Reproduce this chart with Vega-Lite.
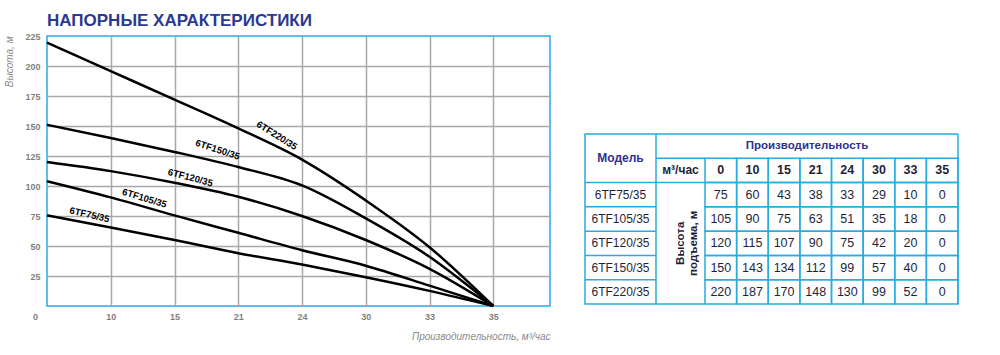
{
  "$schema": "https://vega.github.io/schema/vega-lite/v6.json",
  "background": "white",
  "padding": {"left": 4, "top": 11, "right": 0, "bottom": 0},
  "config": {
    "font": "Liberation Sans, Arial, sans-serif",
    "view": {"stroke": "#29abe2", "strokeWidth": 1.5},
    "concat": {"spacing": 0}
  },
  "datasets": {
    "curves": [
      {"model": "6TF75/35", "q": 0, "h": 75.5}, {"model": "6TF75/35", "q": 10, "h": 65.5}, {"model": "6TF75/35", "q": 15, "h": 55}, {"model": "6TF75/35", "q": 21, "h": 44}, {"model": "6TF75/35", "q": 24, "h": 34.5}, {"model": "6TF75/35", "q": 30, "h": 24}, {"model": "6TF75/35", "q": 33, "h": 12.6}, {"model": "6TF75/35", "q": 35, "h": 0},
      {"model": "6TF105/35", "q": 0, "h": 104}, {"model": "6TF105/35", "q": 10, "h": 90.5}, {"model": "6TF105/35", "q": 15, "h": 75.5}, {"model": "6TF105/35", "q": 21, "h": 61}, {"model": "6TF105/35", "q": 24, "h": 46.5}, {"model": "6TF105/35", "q": 30, "h": 33.6}, {"model": "6TF105/35", "q": 33, "h": 17}, {"model": "6TF105/35", "q": 35, "h": 0},
      {"model": "6TF120/35", "q": 0, "h": 120}, {"model": "6TF120/35", "q": 10, "h": 112.4}, {"model": "6TF120/35", "q": 15, "h": 102.7}, {"model": "6TF120/35", "q": 21, "h": 91}, {"model": "6TF120/35", "q": 24, "h": 75}, {"model": "6TF120/35", "q": 30, "h": 55}, {"model": "6TF120/35", "q": 33, "h": 31}, {"model": "6TF120/35", "q": 35, "h": 0},
      {"model": "6TF150/35", "q": 0, "h": 151}, {"model": "6TF150/35", "q": 10, "h": 140}, {"model": "6TF150/35", "q": 15, "h": 128.4}, {"model": "6TF150/35", "q": 21, "h": 115.8}, {"model": "6TF150/35", "q": 24, "h": 100.5}, {"model": "6TF150/35", "q": 30, "h": 73}, {"model": "6TF150/35", "q": 33, "h": 41}, {"model": "6TF150/35", "q": 35, "h": 0},
      {"model": "6TF220/35", "q": 0, "h": 219.4}, {"model": "6TF220/35", "q": 10, "h": 195.7}, {"model": "6TF220/35", "q": 15, "h": 172}, {"model": "6TF220/35", "q": 21, "h": 148}, {"model": "6TF220/35", "q": 24, "h": 122}, {"model": "6TF220/35", "q": 30, "h": 88}, {"model": "6TF220/35", "q": 33, "h": 49}, {"model": "6TF220/35", "q": 35, "h": 0}
    ],
    "table": [
      {"model": "6TF75/35", "q": 0, "h": 75}, {"model": "6TF75/35", "q": 10, "h": 60}, {"model": "6TF75/35", "q": 15, "h": 43}, {"model": "6TF75/35", "q": 21, "h": 38}, {"model": "6TF75/35", "q": 24, "h": 33}, {"model": "6TF75/35", "q": 30, "h": 29}, {"model": "6TF75/35", "q": 33, "h": 10}, {"model": "6TF75/35", "q": 35, "h": 0},
      {"model": "6TF105/35", "q": 0, "h": 105}, {"model": "6TF105/35", "q": 10, "h": 90}, {"model": "6TF105/35", "q": 15, "h": 75}, {"model": "6TF105/35", "q": 21, "h": 63}, {"model": "6TF105/35", "q": 24, "h": 51}, {"model": "6TF105/35", "q": 30, "h": 35}, {"model": "6TF105/35", "q": 33, "h": 18}, {"model": "6TF105/35", "q": 35, "h": 0},
      {"model": "6TF120/35", "q": 0, "h": 120}, {"model": "6TF120/35", "q": 10, "h": 115}, {"model": "6TF120/35", "q": 15, "h": 107}, {"model": "6TF120/35", "q": 21, "h": 90}, {"model": "6TF120/35", "q": 24, "h": 75}, {"model": "6TF120/35", "q": 30, "h": 42}, {"model": "6TF120/35", "q": 33, "h": 20}, {"model": "6TF120/35", "q": 35, "h": 0},
      {"model": "6TF150/35", "q": 0, "h": 150}, {"model": "6TF150/35", "q": 10, "h": 143}, {"model": "6TF150/35", "q": 15, "h": 134}, {"model": "6TF150/35", "q": 21, "h": 112}, {"model": "6TF150/35", "q": 24, "h": 99}, {"model": "6TF150/35", "q": 30, "h": 57}, {"model": "6TF150/35", "q": 33, "h": 40}, {"model": "6TF150/35", "q": 35, "h": 0},
      {"model": "6TF220/35", "q": 0, "h": 220}, {"model": "6TF220/35", "q": 10, "h": 187}, {"model": "6TF220/35", "q": 15, "h": 170}, {"model": "6TF220/35", "q": 21, "h": 148}, {"model": "6TF220/35", "q": 24, "h": 130}, {"model": "6TF220/35", "q": 30, "h": 99}, {"model": "6TF220/35", "q": 33, "h": 52}, {"model": "6TF220/35", "q": 35, "h": 0}
    ],
    "flows": [{"q": 0}, {"q": 10}, {"q": 15}, {"q": 21}, {"q": 24}, {"q": 30}, {"q": 33}, {"q": 35}],
    "models": [{"model": "6TF75/35"}, {"model": "6TF105/35"}, {"model": "6TF120/35"}, {"model": "6TF150/35"}, {"model": "6TF220/35"}]
  },
  "spacing": 32,
  "hconcat": [
    {
      "width": 503,
      "height": 270,
      "title": {"text": "НАПОРНЫЕ ХАРАКТЕРИСТИКИ", "anchor": "start", "frame": "group", "fontSize": 17, "fontWeight": "bold", "color": "#2b3990", "offset": 2},
      "data": {"name": "curves"},
      "encoding": {
        "x": {"field": "q", "type": "ordinal",
          "scale": {"type": "point", "domain": [0, 10, 15, 21, 24, 30, 33, 35], "padding": 0.445, "align": 0},
          "axis": {"grid": true, "gridColor": "#a8a8a8", "gridWidth": 1.5,
            "gridOpacity": {"condition": {"test": "datum.value == 0", "value": 0}, "value": 1},
            "ticks": false, "domain": false, "labelAngle": 0, "labelColor": "#7f7f7f", "labelFontWeight": "bold", "labelFontSize": 9, "labelPadding": 6,
            "labelOffset": {"condition": {"test": "datum.value == 0", "value": -12}, "value": 0},
            "title": "Производительность, м³/час", "titleAnchor": "end", "titleFontStyle": "italic", "titleFontWeight": "normal", "titleColor": "#8a8a8a", "titleFontSize": 10, "titlePadding": 10}},
        "y": {"field": "h", "type": "quantitative",
          "scale": {"domain": [0, 225], "nice": false},
          "axis": {"values": [25, 50, 75, 100, 125, 150, 175, 200, 225], "grid": true, "gridColor": "#a8a8a8", "gridWidth": 1.5,
            "gridOpacity": {"condition": {"test": "datum.value == 225", "value": 0}, "value": 1},
            "ticks": false, "domain": false, "labelColor": "#7f7f7f", "labelFontWeight": "bold", "labelFontSize": 9, "labelPadding": 7,
            "title": "Высота, м", "titleAnchor": "end", "titleFontStyle": "italic", "titleFontWeight": "normal", "titleColor": "#8a8a8a", "titleFontSize": 10, "titlePadding": 10}}
      },
      "layer": [
        {"mark": {"type": "line", "color": "black", "strokeWidth": 2.5, "interpolate": "monotone"},
         "encoding": {"detail": {"field": "model"}}},
        {"transform": [{"filter": "datum.model == '6TF220/35' && datum.q == 24"}],
         "mark": {"type": "text", "angle": 32, "align": "right", "baseline": "alphabetic", "dx": -11, "dy": -4, "fontSize": 9.5, "fontWeight": "bold", "color": "black"},
         "encoding": {"text": {"field": "model"}}},
        {"transform": [{"filter": "datum.model == '6TF150/35' && datum.q == 21"}],
         "mark": {"type": "text", "angle": 18, "align": "right", "baseline": "alphabetic", "dx": -2, "dy": -7, "fontSize": 9.5, "fontWeight": "bold", "color": "black"},
         "encoding": {"text": {"field": "model"}}},
        {"transform": [{"filter": "datum.model == '6TF120/35' && datum.q == 15"}],
         "mark": {"type": "text", "angle": 15, "align": "left", "baseline": "alphabetic", "dx": -9, "dy": -6, "fontSize": 9.5, "fontWeight": "bold", "color": "black"},
         "encoding": {"text": {"field": "model"}}},
        {"transform": [{"filter": "datum.model == '6TF105/35' && datum.q == 10"}],
         "mark": {"type": "text", "angle": 17, "align": "left", "baseline": "alphabetic", "dx": 9.5, "dy": -6, "fontSize": 9.5, "fontWeight": "bold", "color": "black"},
         "encoding": {"text": {"field": "model"}}},
        {"transform": [{"filter": "datum.model == '6TF75/35' && datum.q == 0"}],
         "mark": {"type": "text", "angle": 13, "align": "left", "baseline": "alphabetic", "dx": 21, "dy": -7, "fontSize": 9.5, "fontWeight": "bold", "color": "black"},
         "encoding": {"text": {"field": "model"}}}
      ]
    },
    {
      "spacing": 0,
      "vconcat": [
        {"width": 10, "height": 97, "view": {"stroke": null}, "data": {"values": [{"a": 1}]}, "mark": {"type": "point", "opacity": 0}, "encoding": {}},
        {
          "spacing": 0,
          "bounds": "flush",
          "hconcat": [
            {"width": 71, "height": 170,
             "encoding": {"y": {"field": "model", "type": "nominal", "scale": {"type": "band", "paddingInner": 0, "paddingOuter": 0, "domain": ["h1", "h2", "6TF75/35", "6TF105/35", "6TF120/35", "6TF150/35", "6TF220/35"]}, "axis": null}},
             "layer": [
               {"data": {"name": "models"}, "mark": {"type": "rule", "color": "#29abe2", "strokeWidth": 1.5}, "encoding": {"y": {"field": "model", "type": "nominal", "bandPosition": 0}}},
               {"data": {"name": "models"}, "mark": {"type": "text", "fontSize": 12, "color": "#1f1f3a"}, "encoding": {"text": {"field": "model"}}},
               {"data": {"values": [{"t": "Модель"}]}, "mark": {"type": "text", "fontSize": 12, "fontWeight": "bold", "color": "#2e3192"},
                "encoding": {"y": {"datum": "h2", "type": "nominal", "bandPosition": 0}, "text": {"field": "t"}}}
             ]},
            {"width": 49, "height": 170, "view": {"stroke": null},
             "layer": [
               {"data": {"values": [{"r": "h1"}, {"r": "h2"}, {"r": "6TF75/35"}]}, "mark": {"type": "rule", "color": "#29abe2", "strokeWidth": 1.5},
                "encoding": {"y": {"field": "r", "type": "nominal", "bandPosition": 0, "scale": {"type": "band", "paddingInner": 0, "paddingOuter": 0, "domain": ["h1", "h2", "6TF75/35", "6TF105/35", "6TF120/35", "6TF150/35", "6TF220/35"]}, "axis": null}}},
               {"data": {"values": [{"r": "6TF220/35"}]}, "mark": {"type": "rule", "color": "#29abe2", "strokeWidth": 1.5},
                "encoding": {"y": {"field": "r", "type": "nominal", "bandPosition": 1}}},
               {"data": {"values": [{"t": "м³/час"}]}, "mark": {"type": "text", "fontSize": 12, "fontWeight": "bold", "color": "#1f1f3a"},
                "encoding": {"y": {"datum": "h2", "type": "nominal"}, "text": {"field": "t"}}},
               {"data": {"values": [{"t": ["Высота", "подъема, м"]}]}, "mark": {"type": "text", "angle": 270, "fontSize": 11.5, "fontWeight": "bold", "color": "#1f1f3a", "lineHeight": 13},
                "encoding": {"y": {"datum": "6TF120/35", "type": "nominal"}, "text": {"field": "t"}}}
             ]},
            {"width": 253, "height": 170, "view": {"stroke": null},
             "encoding": {
               "x": {"field": "q", "type": "ordinal", "scale": {"type": "band", "paddingInner": 0, "paddingOuter": 0, "domain": [0, 10, 15, 21, 24, 30, 33, 35]}, "axis": null},
               "y": {"field": "model", "type": "nominal", "scale": {"type": "band", "paddingInner": 0, "paddingOuter": 0, "domain": ["h1", "h2", "6TF75/35", "6TF105/35", "6TF120/35", "6TF150/35", "6TF220/35"]}, "axis": null}
             },
             "layer": [
               {"data": {"name": "table"}, "mark": {"type": "rect", "fill": "transparent", "stroke": "#29abe2", "strokeWidth": 1.5}},
               {"data": {"name": "flows"}, "mark": {"type": "rect", "fill": "transparent", "stroke": "#29abe2", "strokeWidth": 1.5},
                "encoding": {"y": {"datum": "h2", "type": "nominal"}}},
               {"data": {"values": [{"t": "Производительность"}]}, "mark": {"type": "rule", "color": "#29abe2", "strokeWidth": 1.5},
                "encoding": {"x": null, "y": {"datum": "h1", "type": "nominal", "bandPosition": 0}}},
               {"data": {"values": [{"t": "Производительность"}]}, "mark": {"type": "rule", "color": "#29abe2", "strokeWidth": 1.5},
                "encoding": {"y": null, "x": {"datum": 35, "type": "ordinal", "bandPosition": 1}}},
               {"data": {"values": [{"t": "Производительность"}]}, "mark": {"type": "text", "fontSize": 11.5, "fontWeight": "bold", "color": "#2e3192", "dx": -24.5},
                "encoding": {"x": null, "y": {"datum": "h1", "type": "nominal"}, "text": {"field": "t"}}},
               {"data": {"name": "flows"}, "mark": {"type": "text", "fontSize": 12.5, "fontWeight": "bold", "color": "#1f1f3a"},
                "encoding": {"y": {"datum": "h2", "type": "nominal"}, "text": {"field": "q"}}},
               {"data": {"name": "table"}, "mark": {"type": "text", "fontSize": 12.5, "color": "#1f1f3a"},
                "encoding": {"text": {"field": "h"}}}
             ]}
          ]
        }
      ]
    }
  ]
}
